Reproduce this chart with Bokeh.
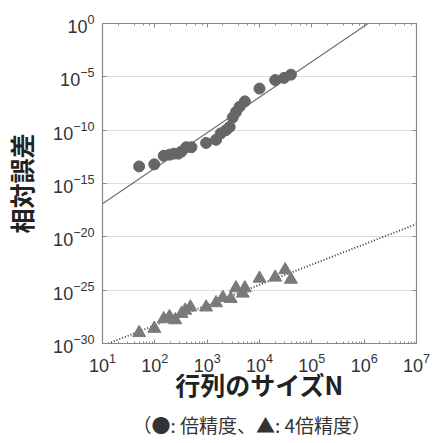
import numpy as np
from bokeh.plotting import figure
from bokeh.models import Range1d, FixedTicker, LogAxis, CustomJSTickFormatter, Title, ColumnDataSource
from bokeh.embed import file_html
from bokeh.resources import INLINE

# Double precision (circles): matrix size N and relative error (log10)
dp_n_log = [1.70, 1.99, 2.17, 2.28, 2.36, 2.45, 2.51, 2.60, 2.70, 2.98, 3.17, 3.26, 3.36, 3.43, 3.49, 3.55, 3.62, 3.72, 4.00, 4.30, 4.47, 4.60]
dp_err_log = [-13.4, -13.2, -12.4, -12.3, -12.2, -12.2, -12.0, -11.6, -11.6, -11.2, -10.9, -10.3, -10.0, -9.7, -8.8, -8.3, -7.8, -7.3, -6.1, -5.3, -5.1, -4.8]

# Quad precision (triangles)
qp_n_log = [1.70, 1.99, 2.17, 2.28, 2.39, 2.51, 2.58, 2.68, 2.98, 3.17, 3.30, 3.45, 3.55, 3.68, 3.72, 4.00, 4.30, 4.49, 4.60]
qp_err_log = [-29.0, -28.6, -27.7, -27.5, -27.8, -27.2, -26.9, -26.6, -26.6, -26.2, -25.7, -25.8, -24.8, -25.3, -24.8, -23.9, -23.8, -23.1, -24.0]

# Fitted power laws: log10(err) = a + b * (log10(N) - 1)
fit_dp = (-16.9, 3.33)
fit_qp = (-30.2, 1.90)
fit_n_log = [1.0, 7.0]

y_ticks = [1e-30, 1e-25, 1e-20, 1e-15, 1e-10, 1e-5, 1e0]
caption = "（●: 倍精度、▲: 4倍精度）"

dp = ColumnDataSource(dict(x=[10 ** v for v in dp_n_log], y=[10 ** v for v in dp_err_log]))
qp = ColumnDataSource(dict(x=[10 ** v for v in qp_n_log], y=[10 ** v for v in qp_err_log]))
fx = [10 ** v for v in fit_n_log]
fy_dp = [10 ** (fit_dp[0] + fit_dp[1] * (v - 1)) for v in fit_n_log]
fy_qp = [10 ** (fit_qp[0] + fit_qp[1] * (v - 1)) for v in fit_n_log]

p = figure(width=432, height=443, x_axis_type="log", y_axis_type="log",
           x_range=Range1d(10, 1e7), y_range=Range1d(1e-30, 1e0),
           output_backend="svg", toolbar_location=None,
           min_border_left=98, min_border_right=16, min_border_top=23, min_border_bottom=100)
p.background_fill_color = "white"
p.border_fill_color = "white"
p.outline_line_color = "#888888"
p.outline_line_width = 1.2

p.line(fx, fy_dp, line_color="#707070", line_width=1.2)
p.line(fx, fy_qp, line_color="#333333", line_width=1.8, line_dash="1 2")
p.scatter("x", "y", source=dp, marker="circle", size=11, fill_color="#666666", line_color="#666666")
p.scatter("x", "y", source=qp, marker="triangle", size=13, fill_color="#7a7a7a", line_color="#7a7a7a")

p.xgrid.visible = False
p.ygrid.ticker = FixedTicker(ticks=y_ticks)
p.ygrid.grid_line_color = "#dddddd"

for ax in (p.xaxis[0], p.yaxis[0]):
    ax.axis_line_color = "#888888"
    ax.major_tick_line_color = "#888888"
    ax.minor_tick_line_color = "#888888"
    ax.major_tick_in = 4
    ax.major_tick_out = 0
    ax.minor_tick_in = 2
    ax.minor_tick_out = 0
    ax.major_label_text_font = "Liberation Sans"
    ax.major_label_text_font_size = "18px"
    ax.major_label_text_color = "#333333"
    ax.axis_label_text_font = "Noto Sans CJK JP"
    ax.axis_label_text_font_style = "bold"
    ax.axis_label_text_color = "#222222"

p.yaxis[0].ticker = FixedTicker(ticks=y_ticks, minor_ticks=[])
p.yaxis[0].major_label_standoff = 8
p.xaxis[0].major_label_standoff = 9
p.xaxis.axis_label = "行列のサイズN"
p.yaxis.axis_label = "相対誤差"
p.xaxis[0].axis_label_text_font_size = "25px"
p.yaxis[0].axis_label_text_font_size = "25px"
p.xaxis[0].axis_label_standoff = -9
p.yaxis[0].axis_label_standoff = 11

top = LogAxis(formatter=CustomJSTickFormatter(code="return ''"), axis_line_color="#888888",
              major_tick_in=4, major_tick_out=0, minor_tick_in=2, minor_tick_out=0,
              major_tick_line_color="#888888", minor_tick_line_color="#888888",
              major_label_standoff=0, major_label_text_font_size="1px")
p.add_layout(top, "above")
right = LogAxis(ticker=FixedTicker(ticks=y_ticks, minor_ticks=[]),
                formatter=CustomJSTickFormatter(code="return ''"), axis_line_color="#888888",
                major_tick_in=4, major_tick_out=0, minor_tick_in=0, minor_tick_out=0,
                major_tick_line_color="#888888", major_label_standoff=0, major_label_text_font_size="1px")
p.add_layout(right, "right")

cap = Title(text=caption, align="left", text_font="Noto Sans CJK JP",
            text_font_size="19px", text_font_style="normal", text_color="#333333", offset=30, standoff=8)
p.add_layout(cap, "below")

open("out.html", "w").write(file_html(p, INLINE))
